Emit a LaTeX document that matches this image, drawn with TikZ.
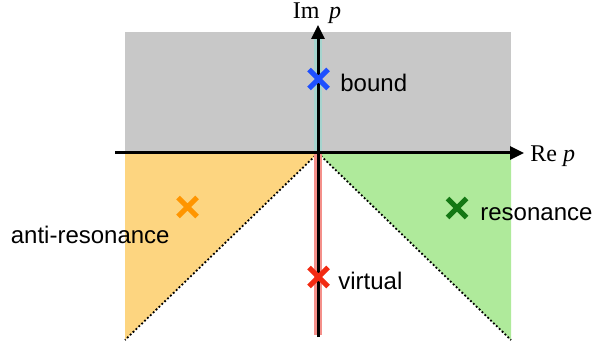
\documentclass[tikz,border=0pt]{standalone}
\usepackage{fontspec}
\setmainfont{Liberation Serif}
\setsansfont{Liberation Sans}
\usetikzlibrary{arrows.meta,shapes.misc}
\definecolor{boundgray}{RGB}{200,200,200}
\definecolor{antifill}{RGB}{253,213,128}
\definecolor{resfill}{RGB}{175,234,155}
\definecolor{cutteal}{RGB}{165,212,206}
\definecolor{cutred}{RGB}{244,144,138}
\definecolor{poleblue}{RGB}{30,80,255}
\definecolor{poleorange}{RGB}{255,149,0}
\definecolor{polegreen}{RGB}{20,120,20}
\definecolor{polered}{RGB}{242,42,18}

\begin{document}
\begin{tikzpicture}[x=0.5pt,y=-0.5pt,
  pole/.style={cross out, draw, line width=2.5pt, minimum size=7pt, inner sep=0pt},
  lbl/.style={font=\sffamily\fontsize{12}{14}\selectfont, inner sep=0pt, anchor=base west},
  axlbl/.style={font=\fontsize{12}{14}\selectfont, inner sep=0pt},
  axis/.style={line width=1.5pt, -{Triangle[length=7pt,width=6.5pt]}},
  cut/.style={line width=0.9pt, dash pattern=on 0.9pt off 1.1pt},
  stripe/.style={line width=4pt}]
\useasboundingbox (0,0) rectangle (594,347);

\coordinate (O) at (318,153);
\coordinate (xl) at (115,153);
\coordinate (xr) at (524,153);
\coordinate (yb) at (318,337);
\coordinate (yt) at (318,25);
\coordinate (cl) at (125,340);
\coordinate (cr) at (511,340);

% regions of the momentum plane
\fill[boundgray] (125,32) rectangle (511,153);
\fill[antifill] (125,153) -- (O) -- (cl) -- cycle;
\fill[resfill] (O) -- (511,153) -- (cr) -- cycle;
\draw[cut] (O) -- (cl);
\draw[cut] (O) -- (cr);

% imaginary axis
\draw[stripe, cutteal] (318,32) -- (O);
\draw[stripe, cutred] (O) -- (318,335);

\draw[axis] (xl) -- (xr);
\draw[axis] (yb) -- (yt);
\node[axlbl, anchor=base] (imlbl) at (317,19) {Im\hspace{0.4em}\textit{p}};
\node[axlbl, anchor=base west] (relbl) at (530,161.5) {Re \textit{p}};

% poles
\node[pole, poleblue] (bnd) at (318.5,79) {};
\node[pole, poleorange] (anti) at (187.5,207) {};
\node[pole, polegreen] (res) at (457,208) {};
\node[pole, polered] (virt) at (318.5,277) {};

\node[lbl] (bndlbl) at (340,92) {bound};
\node[lbl, anchor=base east] (antilbl) at (170,243) {anti-resonance};
\node[lbl] (reslbl) at (480,221) {resonance};
\node[lbl] (virtlbl) at (338,289) {virtual};
\end{tikzpicture}
\end{document}
